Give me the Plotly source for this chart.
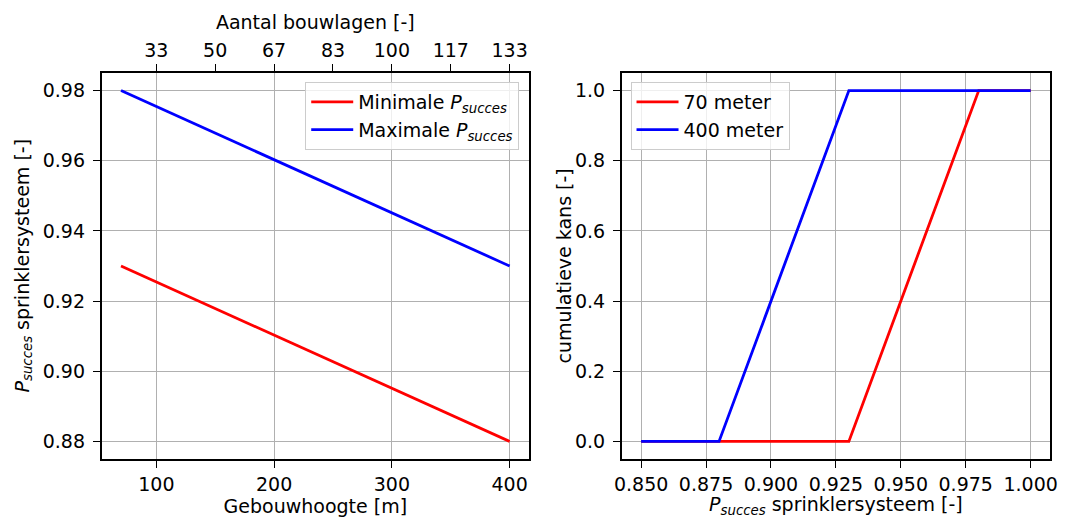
import plotly.graph_objects as go

# ---- data ----
heights = [70, 400]                 # Gebouwhoogte [m]
p_min = [0.93, 0.88]                # Minimale P_succes
p_max = [0.98, 0.93]                # Maximale P_succes

cdf_x_70 = [0.85, 0.93, 0.98, 1.0]
cdf_x_400 = [0.85, 0.88, 0.93, 1.0]
cdf_y = [0, 0, 1, 1]

top_tick_heights = [100, 150, 200, 250, 300, 350, 400]
top_tick_labels = ["33", "50", "67", "83", "100", "117", "133"]

W, H = 1067, 518
FONT = "DejaVu Sans"
FS = 19
GRID = "#b0b0b0"

def px_x(p):
    return p / W

def px_y(p):
    return 1 - p / H

PS = "<i>P</i><sub><i>succes</i></sub>"

fig = go.Figure()
fig.add_trace(go.Scatter(x=heights, y=p_min, mode="lines", name="Minimale " + PS,
                         line=dict(color="red", width=2.8), xaxis="x", yaxis="y", legend="legend"))
fig.add_trace(go.Scatter(x=heights, y=p_max, mode="lines", name="Maximale " + PS,
                         line=dict(color="blue", width=2.8), xaxis="x", yaxis="y", legend="legend"))
# invisible trace to activate the top axis
fig.add_trace(go.Scatter(x=heights, y=p_min, mode="lines", showlegend=False, hoverinfo="skip",
                         line=dict(color="rgba(0,0,0,0)", width=0), xaxis="x3", yaxis="y"))

fig.add_trace(go.Scatter(x=cdf_x_70, y=cdf_y, mode="lines", name="70 meter",
                         line=dict(color="red", width=2.8), xaxis="x2", yaxis="y2", legend="legend2"))
fig.add_trace(go.Scatter(x=cdf_x_400, y=cdf_y, mode="lines", name="400 meter",
                         line=dict(color="blue", width=2.8), xaxis="x2", yaxis="y2", legend="legend2"))

dom_y = [px_y(459), px_y(73)]
common = dict(showline=True, linecolor="black", linewidth=1.5, mirror=True,
              ticks="outside", ticklen=7, tickwidth=1.3, tickcolor="black",
              showgrid=True, gridcolor=GRID, gridwidth=1.3, zeroline=False,
              tickfont=dict(family=FONT, size=FS, color="black"),
              title_font=dict(family=FONT, size=FS, color="black"))

x1_range = [53.5, 416.5]
fig.update_layout(
    width=W, height=H,
    margin=dict(l=0, r=0, t=0, b=0),
    paper_bgcolor="white", plot_bgcolor="white",
    font=dict(family=FONT, size=FS, color="black"),
    xaxis=dict(domain=[px_x(95), px_x(529)], anchor="y", range=x1_range,
               tickvals=[100, 200, 300, 400], title=dict(text="Gebouwhoogte [m]", standoff=5), **common),
    xaxis3=dict(overlaying="x", side="top", anchor="y", range=x1_range,
                tickvals=top_tick_heights, ticktext=top_tick_labels,
                title=dict(text="Aantal bouwlagen [-]", standoff=4),
                **{k: v for k, v in common.items() if k not in ("showgrid", "mirror")}, showgrid=False),
    yaxis=dict(domain=dom_y, anchor="x", range=[0.875, 0.985],
               tickvals=[0.88, 0.90, 0.92, 0.94, 0.96, 0.98], tickformat=".2f",
               ticklabelstandoff=4, **common),
    xaxis2=dict(domain=[px_x(623), px_x(1058)], anchor="y2", range=[0.8425, 1.0075],
                tickvals=[0.85, 0.875, 0.9, 0.925, 0.95, 0.975, 1.0], tickformat=".3f",
                title=dict(text=PS + " sprinklersysteem [-]", standoff=5), **common),
    yaxis2=dict(domain=dom_y, anchor="x2", range=[-0.05, 1.05],
                tickvals=[0, 0.2, 0.4, 0.6, 0.8, 1.0], tickformat=".1f",
                ticklabelstandoff=4, **common),
    legend=dict(x=px_x(519), y=px_y(82), xanchor="right", yanchor="top",
                bgcolor="rgba(255,255,255,0.8)", bordercolor="#cccccc", borderwidth=1,
                font=dict(family=FONT, size=FS), tracegroupgap=0, itemwidth=42),
    legend2=dict(x=px_x(632), y=px_y(82), xanchor="left", yanchor="top",
                 bgcolor="rgba(255,255,255,0.8)", bordercolor="#cccccc", borderwidth=1,
                 font=dict(family=FONT, size=FS), tracegroupgap=0, itemwidth=42),
    annotations=[
        dict(text=PS + " sprinklersysteem [-]", textangle=-90, xref="paper", yref="paper",
             x=0, y=px_y(266), xanchor="left", yanchor="middle", showarrow=False,
             font=dict(family=FONT, size=FS, color="black")),
        dict(text="cumulatieve kans [-]", textangle=-90, xref="paper", yref="paper",
             x=px_x(564), y=px_y(266), xanchor="center", yanchor="middle", showarrow=False,
             font=dict(family=FONT, size=FS, color="black")),
    ],
)

fig.write_html("out.html", config={"displayModeBar": False},
               post_script="document.body.style.margin='0';document.body.style.overflow='hidden';")
